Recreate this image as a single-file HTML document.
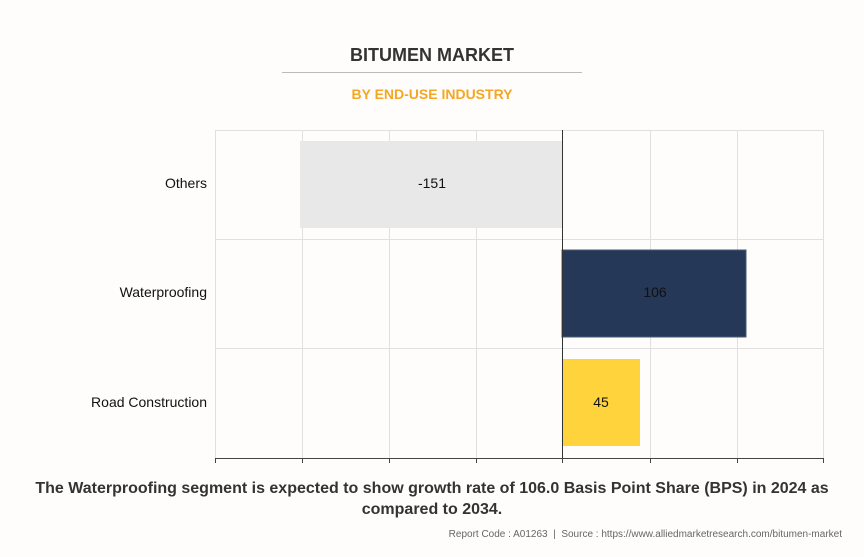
<!DOCTYPE html>
<html><head><style>
body{margin:0;background:#fff;}
.wrap{position:relative;width:864px;height:557px;background:#fefdfc;font-family:"Liberation Sans",sans-serif;overflow:hidden;}
.t{position:absolute;left:0;width:864px;text-align:center;}
</style></head><body><div class="wrap">
<div class="t" style="top:45px;font-size:18px;font-weight:bold;color:#333;">BITUMEN MARKET</div>
<div style="position:absolute;left:282px;top:72px;width:300px;height:1px;background:#bbb;"></div>
<div class="t" style="top:86px;font-size:14px;font-weight:bold;color:#f5a623;">BY END-USE INDUSTRY</div>
<svg style="position:absolute;left:0;top:0" width="864" height="557">
<g stroke="#e0e0e0" stroke-width="1">
<line x1="215.5" y1="130" x2="215.5" y2="458"/><line x1="302.5" y1="130" x2="302.5" y2="458"/>
<line x1="389.5" y1="130" x2="389.5" y2="458"/><line x1="476.5" y1="130" x2="476.5" y2="458"/>
<line x1="650.5" y1="130" x2="650.5" y2="458"/><line x1="737.5" y1="130" x2="737.5" y2="458"/>
<line x1="823.5" y1="130" x2="823.5" y2="458"/>
<line x1="215" y1="130.5" x2="824" y2="130.5"/><line x1="215" y1="239.5" x2="824" y2="239.5"/>
<line x1="215" y1="348.5" x2="824" y2="348.5"/>
</g>
<rect x="300" y="141" width="262" height="87" fill="#e8e8e8"/>
<rect x="562" y="250" width="184" height="87" fill="#253858" stroke="#4a5a78" stroke-width="1"/>
<rect x="562" y="359" width="78" height="87" fill="#ffd33b"/>
<line x1="562.5" y1="130" x2="562.5" y2="458" stroke="#333"/>
<line x1="215" y1="458.5" x2="824" y2="458.5" stroke="#444"/>
<g stroke="#444">
<line x1="215.5" y1="458" x2="215.5" y2="463"/><line x1="302.5" y1="458" x2="302.5" y2="463"/>
<line x1="389.5" y1="458" x2="389.5" y2="463"/><line x1="476.5" y1="458" x2="476.5" y2="463"/>
<line x1="562.5" y1="458" x2="562.5" y2="463"/><line x1="650.5" y1="458" x2="650.5" y2="463"/>
<line x1="737.5" y1="458" x2="737.5" y2="463"/><line x1="823.5" y1="458" x2="823.5" y2="463"/>
</g>
<g font-family="Liberation Sans, sans-serif" font-size="14" fill="#111">
<text x="207" y="188" text-anchor="end">Others</text>
<text x="207" y="297" text-anchor="end">Waterproofing</text>
<text x="207" y="407" text-anchor="end">Road Construction</text>
<text x="432" y="188" text-anchor="middle">-151</text>
<text x="655" y="297" text-anchor="middle">106</text>
<text x="601" y="407" text-anchor="middle">45</text>
</g>
</svg>
<div class="t" style="top:478px;font-size:16px;font-weight:bold;color:#333;line-height:21px;">The Waterproofing segment is expected to show growth rate of 106.0 Basis Point Share (BPS) in 2024 as<br>compared to 2034.</div>
<div style="position:absolute;right:22px;top:529px;font-size:10px;color:#666;">Report Code : A01263 &nbsp;|&nbsp; Source : https://www.alliedmarketresearch.com/bitumen-market</div>
</div></body></html>
